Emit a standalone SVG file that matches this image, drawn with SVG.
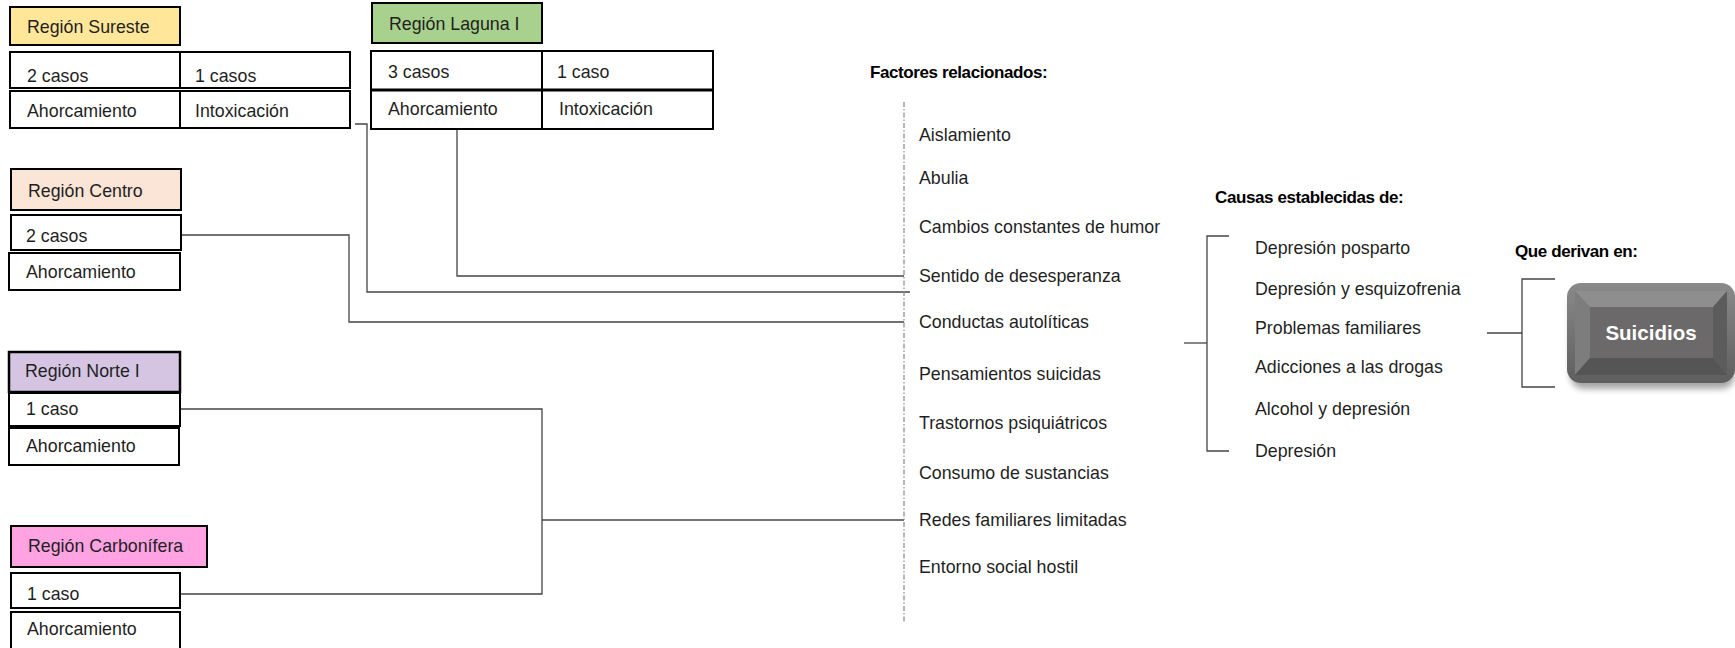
<svg xmlns="http://www.w3.org/2000/svg" width="1735" height="648" viewBox="0 0 1735 648">
<style>
.t{font-family:"Liberation Sans",Arial,sans-serif;font-size:17.8px;fill:#1f1f1f}
.h{font-family:"Liberation Sans",Arial,sans-serif;font-size:17px;font-weight:bold;fill:#000;letter-spacing:-0.4px}
.b{stroke:#000;stroke-width:2;fill:#fff}
.c{fill:none;stroke:#444;stroke-width:1.3}
</style>
<defs>
<linearGradient id="g" x1="0" y1="0" x2="0" y2="1">
<stop offset="0" stop-color="#8a8a8a"/><stop offset="1" stop-color="#5e5e5e"/>
</linearGradient>
<filter id="sh" x="-20%" y="-20%" width="140%" height="150%">
<feGaussianBlur stdDeviation="3"/>
</filter>
</defs>
<rect width="1735" height="648" fill="#fff"/>

<g id="connectors">
<polyline class="c" points="355,124 367,124 367,292 910,292"/>
<polyline class="c" points="457,129 457,276 904,276"/>
<polyline class="c" points="181,235 349,235 349,322 904,322"/>
<polyline class="c" points="180,409 542,409 542,594 180,594"/>
<line class="c" x1="542" y1="520" x2="904" y2="520"/>
<line x1="904" y1="102" x2="904" y2="622" stroke="#888" stroke-width="1.2" stroke-dasharray="5 2 1.5 2"/>
<polyline class="c" points="1229,236 1207,236 1207,451 1229,451"/>
<line class="c" x1="1184" y1="343" x2="1207" y2="343"/>
<polyline class="c" points="1555,279 1522,279 1522,387 1555,387"/>
<line class="c" x1="1487" y1="333" x2="1522" y2="333"/>
</g>

<g id="sureste">
<rect x="10" y="7" width="170" height="38" fill="#ffe699" stroke="#000" stroke-width="2"/>
<text class="t" x="27" y="33">Región Sureste</text>
<rect class="b" x="10" y="52" width="170" height="36"/>
<rect class="b" x="180" y="52" width="170" height="36"/>
<rect class="b" x="10" y="91" width="170" height="37"/>
<rect class="b" x="180" y="91" width="170" height="37"/>
<text class="t" x="27" y="82">2 casos</text>
<text class="t" x="195" y="82">1 casos</text>
<text class="t" x="27" y="117">Ahorcamiento</text>
<text class="t" x="195" y="117">Intoxicación</text>
</g>

<g id="laguna">
<rect x="372" y="3" width="170" height="40" fill="#a9d18e" stroke="#000" stroke-width="2"/>
<text class="t" x="389" y="30">Región Laguna I</text>
<rect class="b" x="371" y="51" width="342" height="78"/>
<line x1="371" y1="90" x2="713" y2="90" stroke="#000" stroke-width="3"/>
<line x1="542" y1="51" x2="542" y2="129" stroke="#000" stroke-width="2"/>
<text class="t" x="388" y="78">3 casos</text>
<text class="t" x="557" y="78">1 caso</text>
<text class="t" x="388" y="115">Ahorcamiento</text>
<text class="t" x="559" y="115">Intoxicación</text>
</g>

<g id="centro">
<rect x="11" y="169" width="170" height="41" fill="#fbe5d6" stroke="#000" stroke-width="2"/>
<text class="t" x="28" y="197">Región Centro</text>
<rect class="b" x="11" y="215" width="170" height="35"/>
<rect class="b" x="9" y="253" width="171" height="37"/>
<text class="t" x="26" y="242">2 casos</text>
<text class="t" x="26" y="278">Ahorcamiento</text>
</g>

<g id="norte">
<rect x="9" y="352" width="171" height="40" fill="#d5c5e2" stroke="#000" stroke-width="2.5"/>
<text class="t" x="25" y="377">Región Norte I</text>
<rect class="b" x="9" y="393" width="171" height="33"/>
<rect class="b" x="9" y="428" width="170" height="37"/>
<text class="t" x="26" y="415">1 caso</text>
<text class="t" x="26" y="452">Ahorcamiento</text>
</g>

<g id="carbonifera">
<rect x="11" y="526" width="196" height="41" fill="#ffa3e3" stroke="#000" stroke-width="2"/>
<text class="t" x="28" y="552">Región Carbonífera</text>
<rect class="b" x="11" y="573" width="169" height="35"/>
<rect class="b" x="11" y="612" width="169" height="40"/>
<text class="t" x="27" y="600">1 caso</text>
<text class="t" x="27" y="635">Ahorcamiento</text>
</g>

<g id="factores">
<text class="h" x="870" y="78">Factores relacionados:</text>
<text class="t" x="919" y="141">Aislamiento</text>
<text class="t" x="919" y="184">Abulia</text>
<text class="t" x="919" y="233">Cambios constantes de humor</text>
<text class="t" x="919" y="282">Sentido de desesperanza</text>
<text class="t" x="919" y="328">Conductas autolíticas</text>
<text class="t" x="919" y="380">Pensamientos suicidas</text>
<text class="t" x="919" y="429">Trastornos psiquiátricos</text>
<text class="t" x="919" y="479">Consumo de sustancias</text>
<text class="t" x="919" y="526">Redes familiares limitadas</text>
<text class="t" x="919" y="573">Entorno social hostil</text>
</g>

<g id="causas">
<text class="h" x="1215" y="203">Causas establecidas de:</text>
<text class="t" x="1255" y="254">Depresión posparto</text>
<text class="t" x="1255" y="295">Depresión y esquizofrenia</text>
<text class="t" x="1255" y="334">Problemas familiares</text>
<text class="t" x="1255" y="373">Adicciones a las drogas</text>
<text class="t" x="1255" y="415">Alcohol y depresión</text>
<text class="t" x="1255" y="457">Depresión</text>
</g>

<g id="suicidios">
<text class="h" x="1515" y="257">Que derivan en:</text>
<rect x="1570" y="289" width="165" height="100" rx="14" fill="#000" opacity="0.35" filter="url(#sh)"/>
<rect x="1567" y="283" width="168" height="100" rx="14" fill="url(#g)"/>
<polygon points="1575,291 1727,291 1713,307 1590,307" fill="#8e8e8e"/>
<polygon points="1575,291 1590,307 1590,358 1575,375" fill="#7d7d7d"/>
<polygon points="1575,375 1590,358 1713,358 1727,375" fill="#555"/>
<polygon points="1727,291 1713,307 1713,358 1727,375" fill="#5c5c5c"/>
<rect x="1590" y="307" width="123" height="51" fill="#6b6969"/>
<text x="1651" y="340" text-anchor="middle" font-family="Liberation Sans,Arial,sans-serif" font-size="20.5" font-weight="bold" fill="#fff">Suicidios</text>
</g>
</svg>
